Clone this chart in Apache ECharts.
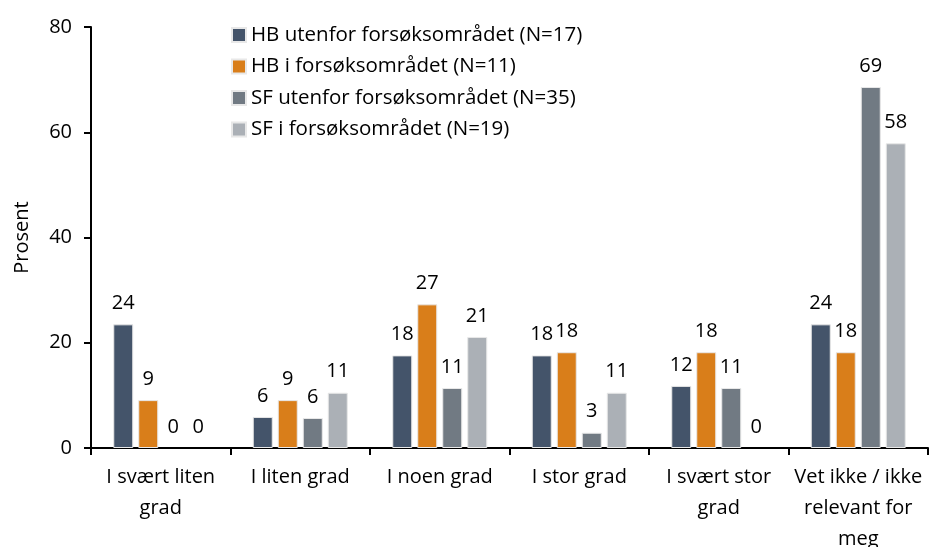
<!DOCTYPE html>
<html>
<head>
<meta charset="utf-8">
<script src="https://cdn.jsdelivr.net/npm/echarts@6/dist/echarts.min.js"></script>
<style>
html, body { margin: 0; padding: 0; background: #fff; }
#chart { width: 930px; height: 547px; }
</style>
</head>
<body>
<div id="chart"></div>
<script>
var categories = ['I svært liten\ngrad', 'I liten grad', 'I noen grad', 'I stor grad', 'I svært stor\ngrad', 'Vet ikke / ikke\nrelevant for\nmeg'];
var seriesNames = ['HB utenfor forsøksområdet (N=17)', 'HB i forsøksområdet (N=11)', 'SF utenfor forsøksområdet (N=35)', 'SF i forsøksområdet (N=19)'];
var hbUtenfor = [23.5, 5.9, 17.6, 17.6, 11.8, 23.5];
var hbI = [9.1, 9.1, 27.3, 18.2, 18.2, 18.2];
var sfUtenfor = [0, 5.7, 11.4, 2.9, 11.4, 68.6];
var sfI = [0, 10.5, 21.1, 10.5, 0, 57.9];
var colors = ['#44546A', '#D97E1A', '#717A83', '#ABB0B6'];

var chart = echarts.init(document.getElementById('chart'));
var font = '"Open Sans", "Noto Sans", sans-serif';

function makeSeries(name, data, color) {
	return {
		name: name,
		type: 'bar',
		// no border on empty bars, otherwise a thin line shows on the axis
		data: data.map(function (v) {
			return v === 0 ? { value: 0, itemStyle: { borderWidth: 0 } } : v;
		}),
		barWidth: 20,
		barGap: '25%',
		itemStyle: { color: color, borderColor: '#e8e8e8', borderWidth: 1 },
		label: {
			show: true,
			position: 'top',
			distance: 11,
			color: '#000',
			fontFamily: font,
			fontSize: 20,
			formatter: function (p) { return Math.round(p.value); }
		}
	};
}

var option = {
	animation: false,
	color: colors,
	textStyle: { fontFamily: font },
	grid: { left: 91, right: 2, top: 27, bottom: 99, containLabel: false, outerBoundsMode: 'none' },
	legend: {
		orient: 'vertical',
		left: 226,
		top: 19,
		itemWidth: 14,
		itemHeight: 14,
		itemGap: 9.5,
		icon: 'rect',
		textStyle: { fontSize: 20.5, color: '#000', fontFamily: font, lineHeight: 22 },
		data: seriesNames
	},
	xAxis: {
		type: 'category',
		data: categories,
		axisLine: { lineStyle: { color: '#000', width: 2 } },
		axisTick: { show: true, length: 7, lineStyle: { color: '#000', width: 2 } },
		axisLabel: { color: '#000', fontSize: 20, lineHeight: 31, margin: 14, fontFamily: font, interval: 0 }
	},
	yAxis: {
		type: 'value',
		min: 0,
		max: 80,
		interval: 20,
		name: 'Prosent',
		nameLocation: 'middle',
		nameGap: 59,
		nameTextStyle: { color: '#000', fontSize: 20, fontFamily: font },
		splitLine: { show: false },
		axisLine: { show: true, lineStyle: { color: '#000', width: 2 } },
		axisTick: { show: true, length: 7, lineStyle: { color: '#000', width: 2 } },
		axisLabel: { color: '#000', fontSize: 20, margin: 19, fontFamily: font }
	},
	series: [
		makeSeries(seriesNames[0], hbUtenfor, colors[0]),
		makeSeries(seriesNames[1], hbI, colors[1]),
		makeSeries(seriesNames[2], sfUtenfor, colors[2]),
		makeSeries(seriesNames[3], sfI, colors[3])
	]
};
chart.setOption(option);
</script>
</body>
</html>
